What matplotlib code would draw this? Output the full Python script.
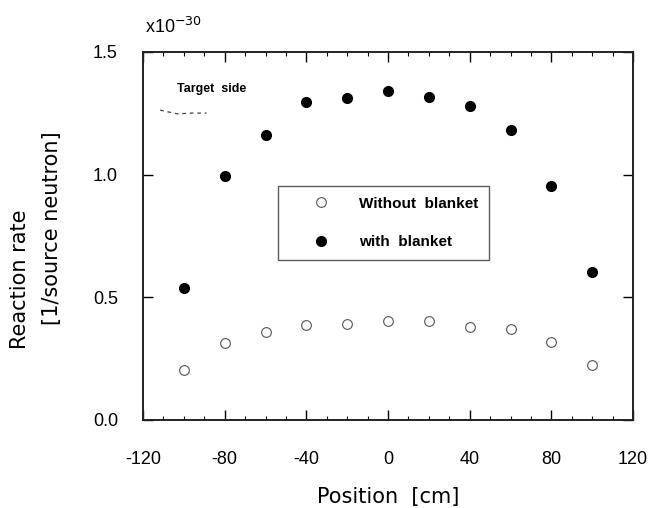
import matplotlib.pyplot as plt
from matplotlib.ticker import MultipleLocator

# positions along the assembly [cm]
position = [-100, -80, -60, -40, -20, 0, 20, 40, 60, 80, 100]

# reaction rate in units of 1e-30 per source neutron
without_blanket = [0.204, 0.314, 0.359, 0.388, 0.390, 0.404, 0.404, 0.380, 0.371, 0.318, 0.224]
with_blanket = [0.539, 0.996, 1.163, 1.298, 1.314, 1.339, 1.318, 1.278, 1.184, 0.955, 0.604]

x_ticks = [-120, -80, -40, 0, 40, 80, 120]
y_ticks = [0.0, 0.5, 1.0, 1.5]

plt.rcParams['font.family'] = ['Liberation Sans', 'DejaVu Sans']
plt.rcParams['axes.unicode_minus'] = False

fig = plt.figure(figsize=(6.53, 5.08), dpi=100)
ax = fig.add_axes([143 / 653, 88 / 508, 490 / 653, 368 / 508])

ax.plot(position, without_blanket, linestyle='none', marker='o', markersize=7,
        markerfacecolor='white', markeredgecolor='#555555', markeredgewidth=0.8,
        label='Without  blanket')
ax.plot(position, with_blanket, linestyle='none', marker='o', markersize=7,
        color='black', label='with  blanket')

ax.set_xlim(-120, 120)
ax.set_ylim(0, 1.5)
ax.set_xticks(x_ticks)
ax.set_xticklabels([str(v) for v in x_ticks])
ax.set_yticks(y_ticks)
ax.set_yticklabels([f'{v:.1f}' for v in y_ticks])
ax.xaxis.set_minor_locator(MultipleLocator(10))
ax.tick_params(which='both', direction='in', top=True, right=True, labelsize=13)
ax.tick_params(which='major', length=7, width=1.0)
ax.tick_params(which='minor', length=3, width=0.8)
ax.tick_params(axis='x', which='major', pad=22)
ax.tick_params(axis='y', which='major', pad=18)
for spine in ax.spines.values():
    spine.set_linewidth(1.4)
    spine.set_color('#222222')

ax.set_xlabel('Position  [cm]', fontsize=15, family='DejaVu Sans', labelpad=14)
fig.text(20 / 653, 1 - 279 / 508, 'Reaction rate', rotation=90, fontsize=15,
         family='DejaVu Sans', ha='center', va='center')
fig.text(52 / 653, 1 - 228 / 508, '[1/source neutron]', rotation=90, fontsize=15,
         family='DejaVu Sans', ha='center', va='center')

ax.text(0.005, 1.04, r'x10$^{\mathrm{-30}}$', transform=ax.transAxes, fontsize=13,
        ha='left', va='bottom')
ax.text(0.07, 0.90, 'Target  side', transform=ax.transAxes, fontsize=9,
        ha='left', va='center', fontweight='bold')
ax.plot([0.035, 0.07, 0.10, 0.13], [0.842, 0.832, 0.834, 0.834], transform=ax.transAxes,
        color='#444444', linewidth=0.9, linestyle=(0, (3, 3)))

leg = ax.legend(loc='upper left', bbox_to_anchor=(0.275, 0.636), frameon=True,
                fancybox=False, edgecolor='#333333', fontsize=11, borderpad=0.7,
                labelspacing=1.6, handlelength=4.3, handletextpad=0.3,
                borderaxespad=0)
leg.get_frame().set_linewidth(1.0)
for t in leg.get_texts():
    t.set_fontweight('bold')

fig.savefig('out.png', dpi=100, facecolor='white')
